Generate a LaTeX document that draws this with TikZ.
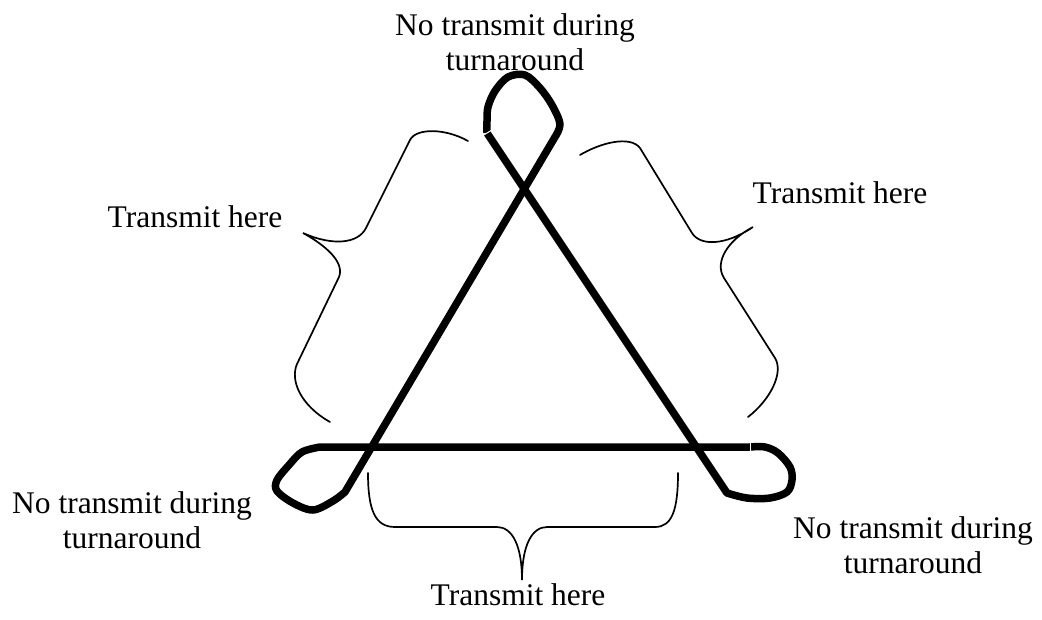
\documentclass[tikz,border=0pt]{standalone}
\usepackage{fontspec}
\setmainfont{Liberation Serif}
\usetikzlibrary{positioning}

\begin{document}
\begin{tikzpicture}[x=1pt, y=-1pt,
    track/.style={line width=7.5pt, line join=round, line cap=butt},
    bracket/.style={line width=1.7pt, line cap=round},
    note/.style={inner sep=0pt, align=center, font=\fontsize{31.5}{35}\selectfont}
]
\useasboundingbox (0,0) rectangle (1042,619);

% Path: top loop down to the right loop
\draw[track] (487,133) -- (727,493)
    -- plot[smooth, tension=0.55] coordinates {(727,493) (747,498) (770,498) (787,492) (792,480) (790,467) (778,453) (765,447) (750,447)};

% Path: bottom line, left loop and back up to the top loop
\draw[track] (750,447) -- (320,447)
    -- plot[smooth, tension=0.55] coordinates {(320,447) (302,452) (289,465) (277,480) (277,491) (293,503) (313,510) (333,501) (345,492)}
    -- (555,137)
    -- plot[smooth, tension=0.55] coordinates {(555,137) (560,124) (552,105) (540,88) (525,75) (508,77) (495,91) (488,107) (487,121) (487,133)};

% Seams
\draw[white, line width=1pt] (482,136) -- (492,130);
\draw[white, line width=1pt] (750,443) -- (750,451);

% Left brace
\draw[bracket] (468,141) .. controls (445,128) and (416,128) .. (410,140) -- (366,228)
    .. controls (358,244) and (332,246) .. (303,233)
    .. controls (325,245) and (345,262) .. (339,277) -- (297,364)
    .. controls (290,380) and (300,405) .. (330,422);

% Right brace
\draw[bracket] (580,155) .. controls (600,143) and (630,135) .. (640,148) -- (692,233)
    .. controls (700,246) and (725,246) .. (753,227)
    .. controls (728,240) and (714,262) .. (724,278) -- (775,358)
    .. controls (784,373) and (770,400) .. (748,417);

% Bottom brace
\draw[bracket] (368,473) .. controls (368,510) and (375,527) .. (395,527) -- (497,527)
    .. controls (512,527) and (522,545) .. (522,580)
    .. controls (522,545) and (532,527) .. (547,527) -- (655,527)
    .. controls (672,527) and (678,510) .. (678,473);

% Labels
\node[note, anchor=north] (topnote) at (515,13) {No transmit during\\turnaround};
\node[note, anchor=north] (leftnote) at (132,491) {No transmit during\\turnaround};
\node[note, anchor=north] (rightnote) at (913,516) {No transmit during\\turnaround};
\node[note, anchor=base] (lefttx) at (195,227) {Transmit here};
\node[note, anchor=base] (righttx) at (840,203) {Transmit here};
\node[note, anchor=base] (bottomtx) at (518,605) {Transmit here};

\end{tikzpicture}
\end{document}
